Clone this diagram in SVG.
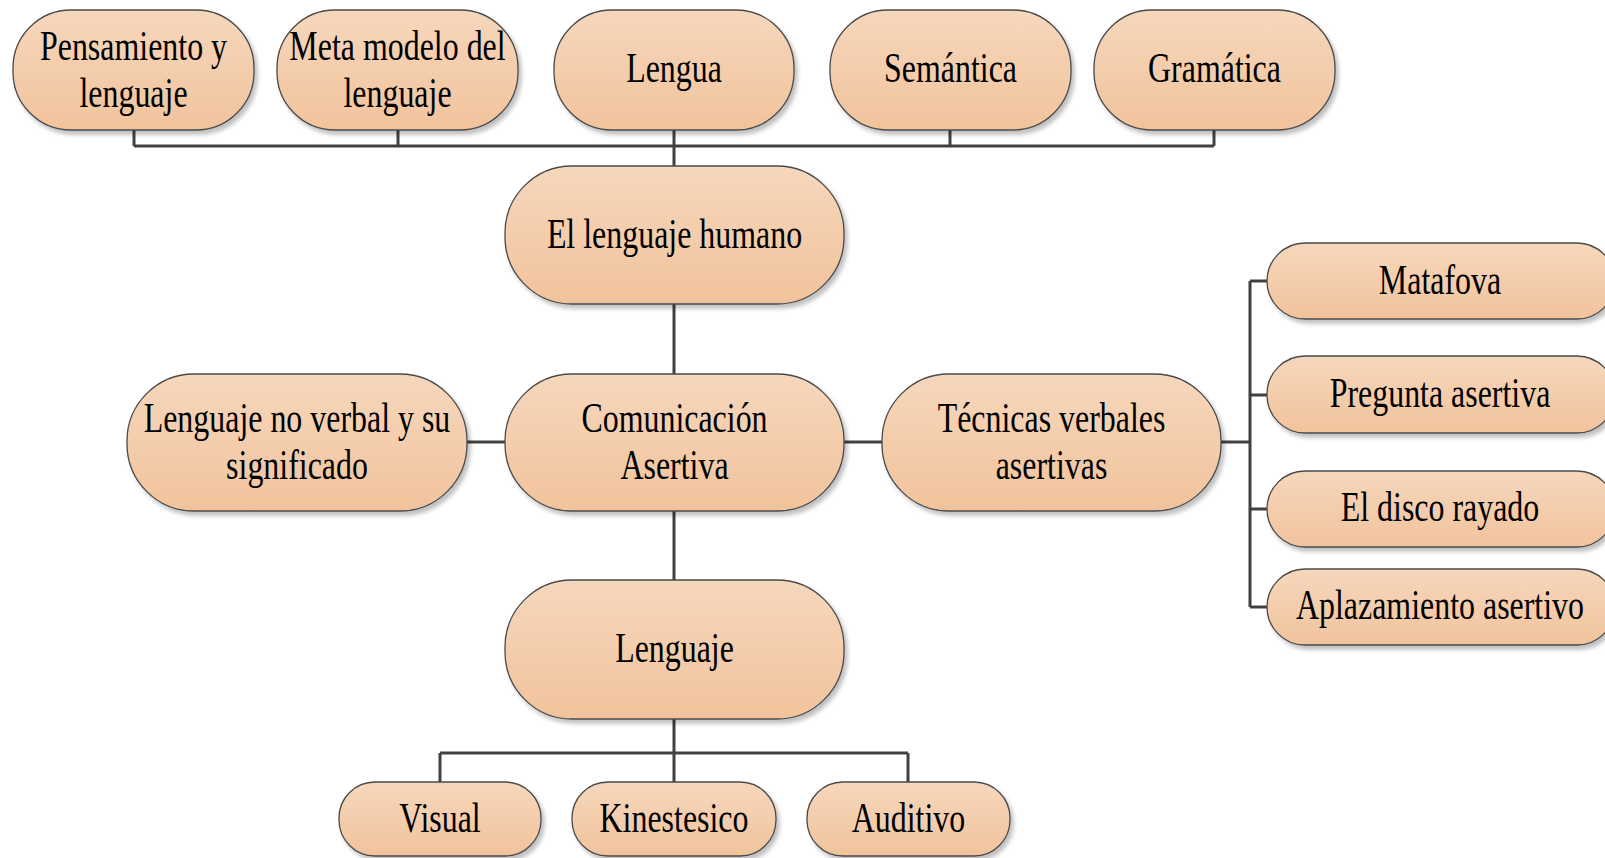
<svg xmlns="http://www.w3.org/2000/svg" width="1605" height="858" viewBox="0 0 1605 858">
<defs>
<linearGradient id="g" x1="0" y1="0" x2="0" y2="1">
<stop offset="0" stop-color="#f6d7bc"/>
<stop offset="1" stop-color="#f1c39c"/>
</linearGradient>
<filter id="sh" x="-10%" y="-10%" width="125%" height="130%">
<feGaussianBlur in="SourceAlpha" stdDeviation="2"/>
<feOffset dx="3" dy="4" result="b"/>
<feComponentTransfer><feFuncA type="linear" slope="0.25"/></feComponentTransfer>
<feMerge><feMergeNode/><feMergeNode in="SourceGraphic"/></feMerge>
</filter>
</defs>
<style>
.n rect{fill:url(#g);stroke:#4a4a4a;stroke-width:1.3;filter:url(#sh)}
.n text{font-family:"Liberation Serif","Times New Roman",serif;font-size:42px;fill:#000;text-anchor:middle}
.c path{fill:none;stroke:#404040;stroke-width:3}
</style>
<rect width="1605" height="858" fill="#fff"/>
<g class="c" id="connectors">
<path d="M134,130V146M398,130V146M674,130V166M950,130V146M1214,130V146M134,146H1214"/>
<path d="M674,304V374"/>
<path d="M467,442H505M844,442H882"/>
<path d="M1221,442H1250M1250,281V607M1250,281H1267M1250,395H1267M1250,509H1267M1250,607H1267"/>
<path d="M674,511V580"/>
<path d="M674,719V782M440,753H908M440,753V782M908,753V782"/>
</g>
<g class="n" id="n-pensamiento"><rect x="13" y="10" width="241" height="120" rx="58"/><text transform="translate(133.5,60) scale(0.76,1)"><tspan x="0">Pensamiento y</tspan><tspan x="0" dy="47">lenguaje</tspan></text></g>
<g class="n" id="n-meta"><rect x="277" y="10" width="241" height="120" rx="58"/><text transform="translate(397.5,60) scale(0.76,1)"><tspan x="0">Meta modelo del</tspan><tspan x="0" dy="47">lenguaje</tspan></text></g>
<g class="n" id="n-lengua"><rect x="554" y="10" width="240" height="120" rx="58"/><text transform="translate(674,82) scale(0.76,1)">Lengua</text></g>
<g class="n" id="n-semantica"><rect x="830" y="10" width="241" height="120" rx="58"/><text transform="translate(950.5,82) scale(0.76,1)">Semántica</text></g>
<g class="n" id="n-gramatica"><rect x="1094" y="10" width="241" height="120" rx="58"/><text transform="translate(1214.5,82) scale(0.76,1)">Gramática</text></g>
<g class="n" id="n-humano"><rect x="505" y="166" width="339" height="138" rx="67"/><text transform="translate(674.5,248) scale(0.76,1)">El lenguaje humano</text></g>
<g class="n" id="n-comunicacion"><rect x="505" y="374" width="339" height="137" rx="67"/><text transform="translate(674.5,432) scale(0.76,1)"><tspan x="0">Comunicación</tspan><tspan x="0" dy="47">Asertiva</tspan></text></g>
<g class="n" id="n-noverbal"><rect x="127" y="374" width="340" height="137" rx="67"/><text transform="translate(297,432) scale(0.76,1)"><tspan x="0">Lenguaje no verbal y su</tspan><tspan x="0" dy="47">significado</tspan></text></g>
<g class="n" id="n-tecnicas"><rect x="882" y="374" width="339" height="137" rx="67"/><text transform="translate(1051.5,432) scale(0.76,1)"><tspan x="0">Técnicas verbales</tspan><tspan x="0" dy="47">asertivas</tspan></text></g>
<g class="n" id="n-lenguaje"><rect x="505" y="580" width="339" height="139" rx="67"/><text transform="translate(674.5,662) scale(0.76,1)">Lenguaje</text></g>
<g class="n" id="n-visual"><rect x="339" y="782" width="202" height="74" rx="36"/><text transform="translate(440,832) scale(0.76,1)">Visual</text></g>
<g class="n" id="n-kinestesico"><rect x="572" y="782" width="204" height="74" rx="36"/><text transform="translate(674,832) scale(0.76,1)">Kinestesico</text></g>
<g class="n" id="n-auditivo"><rect x="807" y="782" width="203" height="74" rx="36"/><text transform="translate(908.5,832) scale(0.76,1)">Auditivo</text></g>
<g class="n" id="n-matafova"><rect x="1267" y="243" width="348" height="76" rx="38"/><text transform="translate(1440,294) scale(0.76,1)">Matafova</text></g>
<g class="n" id="n-pregunta"><rect x="1267" y="356" width="348" height="77" rx="38"/><text transform="translate(1440,407) scale(0.76,1)">Pregunta asertiva</text></g>
<g class="n" id="n-disco"><rect x="1267" y="471" width="348" height="76" rx="38"/><text transform="translate(1440,521) scale(0.76,1)">El disco rayado</text></g>
<g class="n" id="n-aplazamiento"><rect x="1267" y="569" width="348" height="76" rx="38"/><text transform="translate(1440,619) scale(0.76,1)">Aplazamiento asertivo</text></g>
</svg>
